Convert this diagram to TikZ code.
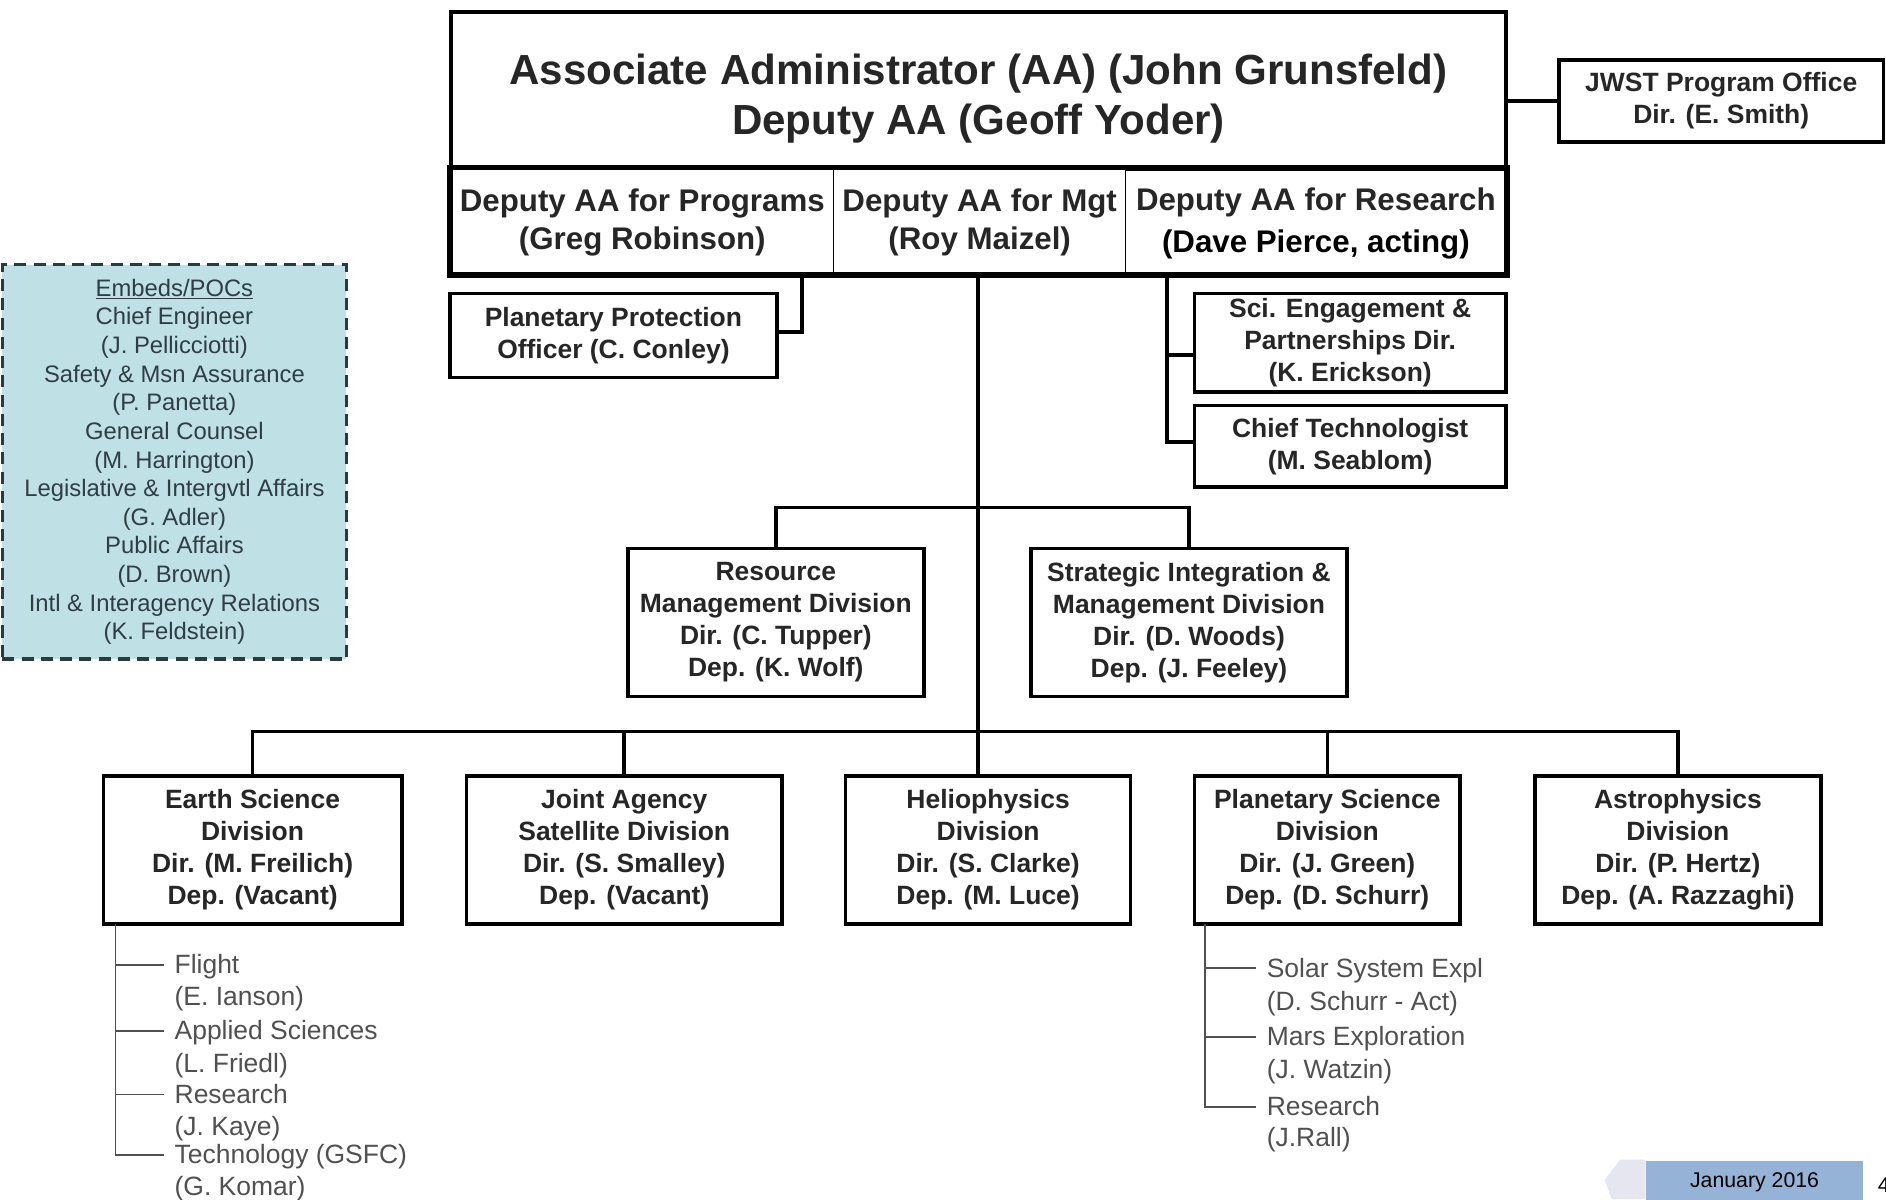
\documentclass[tikz,border=0pt]{standalone}
\usepackage{fontspec}
\setmainfont{Liberation Sans}
\usepackage{tikz}

\definecolor{txtgray}{HTML}{262626}
\definecolor{subgray}{HTML}{505050}
\definecolor{pocfill}{HTML}{BFE0E4}
\definecolor{pocedge}{HTML}{2A3A3E}
\definecolor{poctext}{HTML}{2E3E44}
\definecolor{tabblue}{HTML}{95B3D7}
\definecolor{tabgray}{HTML}{E6E6F0}

\begin{document}
\begin{tikzpicture}[x=1pt, y=-1pt,
	box/.style={draw, line width=3pt, fill=white, align=center, inner sep=0pt, text=txtgray,
		font=\bfseries\fontsize{22}{26.7}\selectfont},
	cell/.style={draw, line width=1pt, align=center, inner sep=0pt, text=txtgray,
		minimum height=88, font=\bfseries\fontsize{26}{31}\selectfont},
	link/.style={line width=3pt},
	sublink/.style={line width=1.5pt, draw=subgray},
	subitem/.style={anchor=west, inner xsep=9pt, inner ysep=0pt, text=subgray,
		text height=15pt, text depth=0pt, font=\fontsize{22}{26}\selectfont}]
	\useasboundingbox (0,0) rectangle (1568,997);
	% direction
	\node[box, minimum width=877, minimum height=130] (aa) at (813.5,75) {};
	\node[align=center, inner sep=0pt, text=txtgray, font=\bfseries\fontsize{35}{42}\selectfont] (aaTxt) at (813.5,82)
		{Associate Administrator (AA) (John Grunsfeld)\\Deputy AA (Geoff Yoder)};
	\node[box, minimum width=877, minimum height=88] (dep) at (813.5,184) {};
	\node[cell, minimum width=318] (prog) at (534,185) {Deputy AA for Programs\\(Greg Robinson)};
	\node[cell, minimum width=243] (mgt) at (814.5,185) {Deputy AA for Mgt\\(Roy Maizel)};
	\node[cell, minimum width=316] (rsch) at (1094,186)
		{Deputy AA for Research\\{\color{black}\raisebox{-4pt}{(Dave Pierce, acting)}}};
	\draw[line width=3pt] (dep.north west) rectangle (dep.south east);
	\node[box, minimum width=270, minimum height=68] (jwst) at (1431,84) {JWST Program Office\\Dir. (E. Smith)};
	\draw[link] (jwst.west) -- (jwst.west -| aa.east);

	% bureaux rattachés
	\node[box, minimum width=272, minimum height=70] (ppo) at (510,279) {Planetary Protection\\Officer (C. Conley)};
	\node[box, minimum width=259, minimum height=82] (sci) at (1122.5,285)
		{Sci. Engagement \&\\Partnerships Dir.\\(K. Erickson)};
	\node[box, minimum width=259, minimum height=68] (chief) at (1122.5,371) {Chief Technologist\\(M. Seablom)};
	\coordinate (ppoTap) at (667,228);
	\coordinate (rschTap) at (970,228);
	\draw[link] (ppoTap) |- ([yshift=3pt]ppo.east);
	\draw[link] (rschTap) |- ([yshift=-10pt]sci.west);
	\draw[link] (rschTap) |- ([yshift=3.5pt]chief.west);

	% divisions de soutien
	\node[box, minimum width=246, minimum height=123] (rmd) at (645,517.5)
		{Resource\\Management Division\\Dir. (C. Tupper)\\Dep. (K. Wolf)};
	\node[box, minimum width=263, minimum height=123] (sim) at (988.5,517.5)
		{Strategic Integration \&\\Management Division\\Dir. (D. Woods)\\Dep. (J. Feeley)};

	% divisions scientifiques
	\foreach \nm/\x/\w/\txt in {
		esd/210/248/{Earth Science\\Division\\Dir. (M. Freilich)\\Dep. (Vacant)},
		jasd/519/262/{Joint Agency\\Satellite Division\\Dir. (S. Smalley)\\Dep. (Vacant)},
		hpd/821.5/237/{Heliophysics\\Division\\Dir. (S. Clarke)\\Dep. (M. Luce)},
		psd/1103.5/221/{Planetary Science\\Division\\Dir. (J. Green)\\Dep. (D. Schurr)},
		apd/1395/238/{Astrophysics\\Division\\Dir. (P. Hertz)\\Dep. (A. Razzaghi)}} {
		\node[box, minimum width=\w, minimum height=123] (\nm) at (\x,706.5) {\txt};
	}
	\coordinate (mgtTap) at (813,228);
	\coordinate (busA) at (813,422);
	\coordinate (busB) at (813,608);
	\draw[link] (mgtTap) -- (mgtTap |- hpd.north);
	\draw[link] (rmd.north) |- (busA) -| (sim.north);
	\draw[link] (esd.north) |- (busB) -| (apd.north);
	\draw[link] (jasd.north) |- (busB);
	\draw[link] (psd.north) |- (busB);

	% sous-programmes
	\coordinate (esdSpine) at (96,768);
	\foreach \y/\lbl [count=\i] in {802/Flight, 828.5/(E. Ianson), 857/Applied Sciences, 884/(L. Friedl),
		910/Research, 936.5/(J. Kaye), 960/Technology (GSFC), 986.5/(G. Komar)} {
		\node[subitem] (es\i) at (136,\y) {\lbl};
	}
	\foreach \i in {1,3,5,7} \draw[sublink] (esdSpine) |- (es\i.west);
	\coordinate (psdSpine) at (1002,768);
	\foreach \y/\lbl [count=\i] in {805/Solar System Expl, 832.5/(D. Schurr - Act), 862/Mars Exploration,
		889.5/(J. Watzin), 920/Research, 946/(J.Rall)} {
		\node[subitem] (ps\i) at (1044,\y) {\lbl};
	}
	\foreach \i in {1,3,5} \draw[sublink] (psdSpine) |- (ps\i.west);

	% correspondants
	\node[draw=pocedge, fill=pocfill, line width=3pt, dash pattern=on 10pt off 6pt, minimum width=286,
		minimum height=328, align=center, inner sep=0pt, text=poctext, font=\fontsize{19.8}{23.8}\selectfont]
		(poc) at (145,384) {\underline{Embeds/POCs}\\Chief Engineer\\(J. Pellicciotti)\\Safety \& Msn Assurance\\(P. Panetta)\\
		General Counsel\\(M. Harrington)\\Legislative \& Intergvtl Affairs\\(G. Adler)\\Public Affairs\\(D. Brown)\\
		Intl \& Interagency Relations\\(K. Feldstein)};

	% pied de page
	\fill[tabgray] (1368,964) -- (1347,964) -- (1334,981) -- (1340,997) -- (1368,997) -- cycle;
	\node[fill=tabblue, minimum width=181, minimum height=36, anchor=north west, inner sep=0pt,
		font=\fontsize{17.7}{20}\selectfont] (date) at (1368,965) {January 2016};
	\node[anchor=west, inner sep=0pt, font=\fontsize{17.7}{20}\selectfont] (page) at (1561,985) {4};
\end{tikzpicture}
\end{document}
